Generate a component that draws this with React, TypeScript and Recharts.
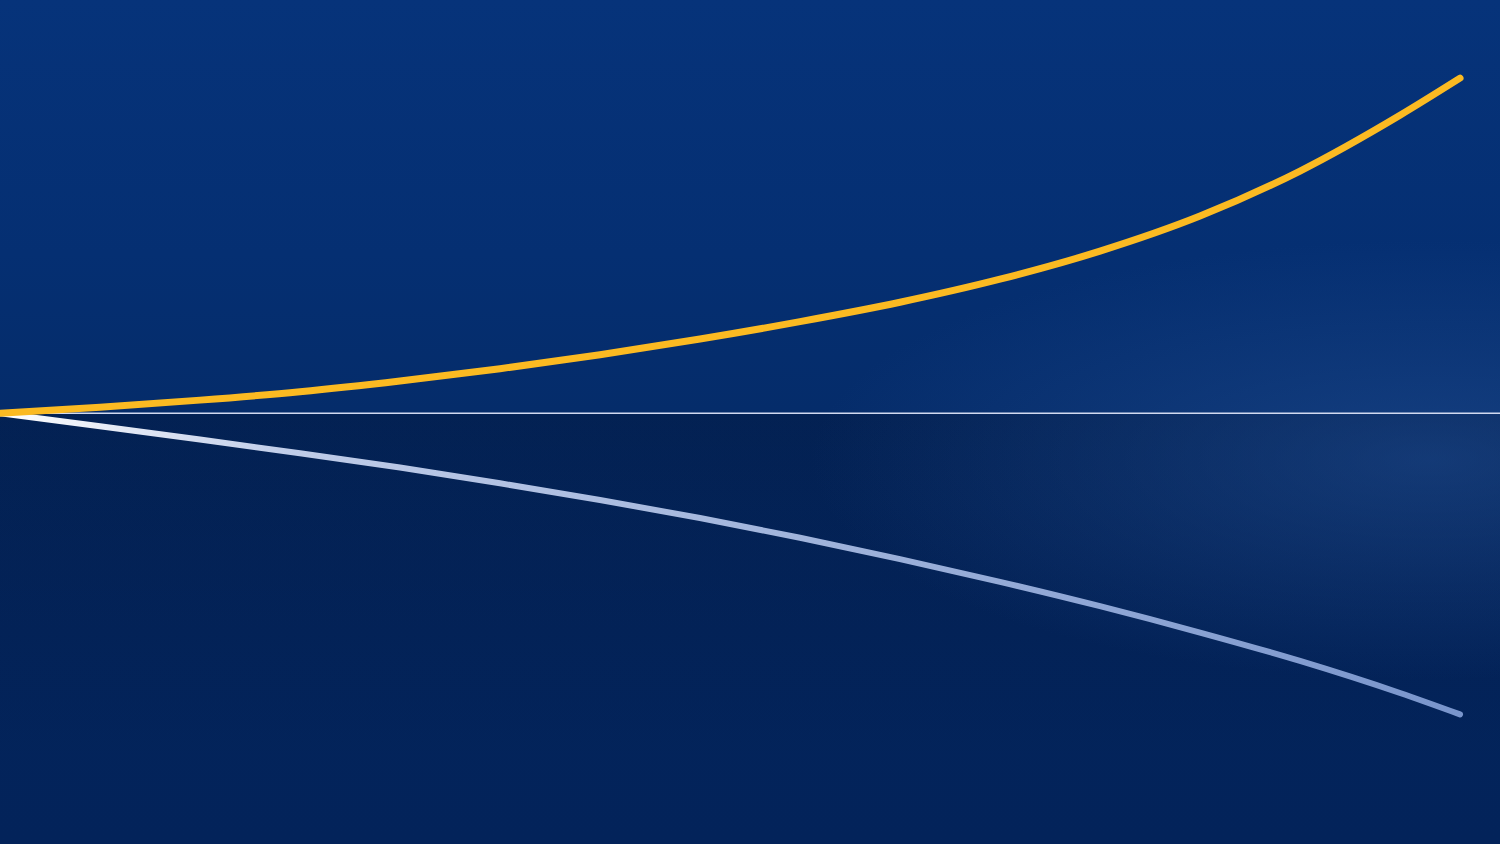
import React from 'react';
import {
  ComposedChart,
  Line,
  XAxis,
  YAxis,
  ReferenceLine,
} from 'recharts';

// periods along the run, values as cumulative % change from the start
const periods = [0, 1, 2, 3, 4, 5, 6, 7, 8, 9, 10, 11, 12, 13, 14, 14.6];
const growth = [0, 1.8, 3.9, 6.4, 9.6, 13.3, 17.5, 22.2, 27.4, 33.2, 40.1, 48.5, 59.0, 72.5, 89.2, 100.3];
const decline = [0, -3.9, -7.9, -12.0, -16.3, -21.0, -26.0, -31.4, -37.3, -43.7, -50.5, -57.8, -65.7, -74.2, -83.8, -90.2];

const X_MAX = 15;
const Y_MIN = -129;
const Y_MAX = 123.7;

const data = periods.map((p, i) => ({
  period: p,
  growth: growth[i],
  decline: decline[i],
}));

const App: React.FC = () => {
  return (
    <div
      style={{
        width: 1500,
        height: 844,
        position: 'relative',
        overflow: 'hidden',
        background:
          'radial-gradient(ellipse 620px 220px at 1430px 460px, rgba(36,82,152,0.5), rgba(36,82,152,0) 100%),' +
          'linear-gradient(180deg, rgba(1,16,48,0) 0%, rgba(1,16,48,0) 48.9%, rgba(1,16,48,0.25) 49.1%, rgba(1,16,48,0) 90%),' +
          'linear-gradient(180deg, #06337a 0%, #052f72 30%, #052c6a 48.8%, #04275f 49.2%, #03245b 75%, #03235a 100%)',
      }}
    >
      <style>{'body{margin:0;overflow:hidden;}'}</style>
      <ComposedChart
        width={1500}
        height={844}
        data={data}
        margin={{ top: 0, right: 0, bottom: 0, left: 0 }}
      >
        <defs>
          <linearGradient id="declineFade" x1="0" y1="0" x2="1" y2="0">
            <stop offset="0%" stopColor="#ffffff" stopOpacity={1} />
            <stop offset="20%" stopColor="#c9d5f0" stopOpacity={0.95} />
            <stop offset="100%" stopColor="#7f9bd2" stopOpacity={0.95} />
          </linearGradient>
        </defs>
        <XAxis
          type="number"
          dataKey="period"
          domain={[0, X_MAX]}
          allowDataOverflow
          hide
        />
        <YAxis type="number" domain={[Y_MIN, Y_MAX]} allowDataOverflow hide />
        <ReferenceLine y={0} stroke="#d2daf0" strokeWidth={1.5} />
        <Line
          type="monotone"
          dataKey="decline"
          stroke="url(#declineFade)"
          strokeWidth={6}
          strokeLinecap="round"
          dot={false}
          activeDot={false}
          isAnimationActive={false}
        />
        <Line
          type="monotone"
          dataKey="growth"
          stroke="#fbba22"
          strokeWidth={7}
          strokeLinecap="round"
          dot={false}
          activeDot={false}
          isAnimationActive={false}
        />
      </ComposedChart>
    </div>
  );
};

export default App;
